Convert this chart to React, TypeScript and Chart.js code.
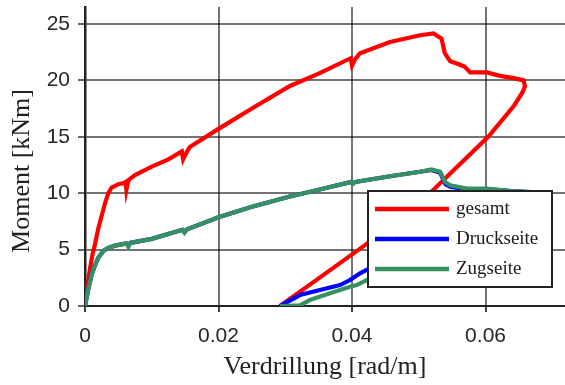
import React, { useEffect, useRef } from "react";
import { Chart, registerables } from "chart.js";

Chart.register(...registerables);

// ---- data ----
const gesamtX = [
  0, 0.0004, 0.00075, 0.0011, 0.0015, 0.002, 0.0025, 0.003, 0.0035, 0.004, 0.005, 0.0058, 0.0061, 0.0062,
  0.0064, 0.0066, 0.0075, 0.01, 0.0125, 0.0145, 0.0147, 0.0152, 0.0157, 0.02, 0.025, 0.0307, 0.035, 0.0398,
  0.04, 0.0405, 0.0412, 0.0457, 0.0472, 0.0502, 0.0522, 0.0534, 0.0539, 0.0547, 0.0559, 0.0569, 0.0577,
  0.0602, 0.0622, 0.0642, 0.0657, 0.0659, 0.0655, 0.0642, 0.0604, 0.0522, 0.0422, 0.035, 0.0292,
];
const gesamtY = [
  0, 2.0, 3.3, 4.5, 5.5, 6.9, 8.0, 9.1, 10.0, 10.5, 10.8, 10.9, 11.0, 10.3,
  10.9, 11.2, 11.6, 12.35, 13.0, 13.7, 13.0, 13.6, 14.1, 15.7, 17.5, 19.5, 20.6, 21.96,
  21.3, 21.9, 22.4, 23.4, 23.6, 24.0, 24.15, 23.7, 22.4, 21.7, 21.45, 21.2, 20.7,
  20.7, 20.4, 20.2, 20.0, 19.45, 18.9, 17.7, 15.0, 10.3, 5.5, 2.45, 0,
];

const druckX = [
  0, 0.0005, 0.001, 0.0015, 0.002, 0.0028, 0.0035, 0.0045, 0.0062, 0.0065, 0.0068, 0.01, 0.0146, 0.0149,
  0.0153, 0.02, 0.025, 0.0307, 0.035, 0.0399, 0.0401, 0.0405, 0.0457, 0.0502, 0.0519, 0.0532, 0.054,
  0.0548, 0.0572, 0.0602, 0.0635, 0.0665, 0.0422, 0.0412, 0.0397, 0.0382, 0.0352, 0.0322, 0.0292,
];
const druckY = [
  0, 1.5, 2.8, 3.6, 4.3, 4.9, 5.15, 5.35, 5.55, 5.45, 5.6, 5.95, 6.75, 6.6,
  6.8, 7.86, 8.8, 9.7, 10.3, 11.0, 10.85, 11.0, 11.5, 11.9, 12.05, 11.8, 10.8,
  10.55, 10.35, 10.35, 10.2, 10.1, 3.2, 2.9, 2.3, 1.86, 1.42, 0.97, 0,
];

const zugX = [
  0, 0.0005, 0.001, 0.0015, 0.002, 0.0028, 0.0035, 0.0045, 0.0062, 0.0065, 0.0068, 0.01, 0.0146, 0.0149,
  0.0153, 0.02, 0.025, 0.0307, 0.035, 0.0399, 0.0401, 0.0405, 0.0457, 0.0502, 0.0519, 0.0532, 0.0539,
  0.0547, 0.0572, 0.0602, 0.0635, 0.0665, 0.0422, 0.0407, 0.0397, 0.0367, 0.0337, 0.0322, 0.0292,
];
const zugY = [
  0, 1.5, 2.8, 3.6, 4.3, 4.9, 5.15, 5.35, 5.55, 5.25, 5.6, 5.95, 6.75, 6.5,
  6.8, 7.86, 8.8, 9.7, 10.3, 11.0, 10.8, 11.0, 11.5, 11.9, 12.1, 11.9, 11.0,
  10.7, 10.4, 10.4, 10.2, 10.1, 2.3, 1.86, 1.7, 1.12, 0.53, 0.05, 0,
];

const seriesNames = ["gesamt", "Druckseite", "Zugseite"];
const seriesColors = ["#ff0000", "#0000ff", "#35915f"];
const xTicks = [0, 0.02, 0.04, 0.06];
const yTicks = [0, 5, 10, 15, 20, 25];
const xTitle = "Verdrillung [rad/m]";
const yTitle = "Moment [kNm]";

const toPoints = (xs: number[], ys: number[]) => xs.map((x, i) => ({ x, y: ys[i] }));

const overlayPlugin = {
  id: "overlay",
  afterDraw(chart: any) {
    const ctx = chart.ctx as CanvasRenderingContext2D;
    // y-axis title
    ctx.save();
    ctx.translate(22, 171);
    ctx.rotate(-Math.PI / 2);
    ctx.font = '26px "Liberation Serif"';
    ctx.fillStyle = "#222";
    ctx.textAlign = "center";
    ctx.textBaseline = "middle";
    ctx.fillText(yTitle, 0, 0);
    ctx.restore();

    // legend box inside the plot
    const bx = 368, by = 191, bw = 184, bh = 96;
    ctx.save();
    ctx.fillStyle = "#ffffff";
    ctx.fillRect(bx, by, bw, bh);
    ctx.strokeStyle = "#222";
    ctx.lineWidth = 2;
    ctx.strokeRect(bx, by, bw, bh);
    ctx.font = '19px "Liberation Serif"';
    ctx.textAlign = "left";
    ctx.textBaseline = "alphabetic";
    chart.data.datasets.forEach((ds: any, i: number) => {
      const ly = by + 18 + i * 30;
      ctx.strokeStyle = ds.borderColor;
      ctx.lineWidth = 4.5;
      ctx.beginPath();
      ctx.moveTo(bx + 7, ly);
      ctx.lineTo(bx + 81, ly);
      ctx.stroke();
      ctx.fillStyle = "#1a1a1a";
      ctx.fillText(ds.label, bx + 88, ly + 5);
    });
    ctx.restore();
  },
};

export default function App() {
  const ref = useRef<HTMLCanvasElement | null>(null);

  useEffect(() => {
    if (!ref.current) return;
    const series = [
      toPoints(gesamtX, gesamtY),
      toPoints(druckX, druckY),
      toPoints(zugX, zugY),
    ];
    const chart = new Chart(ref.current, {
      type: "scatter",
      data: {
        datasets: series.map((pts, i) => ({
          label: seriesNames[i],
          data: pts,
          showLine: true,
          borderColor: seriesColors[i],
          backgroundColor: seriesColors[i],
          borderWidth: 4.2,
          pointRadius: 0,
          tension: 0,
          order: 3 - i,
        })),
      },
      options: {
        animation: false,
        responsive: false,
        devicePixelRatio: 1,
        layout: { autoPadding: false, padding: { top: 7, right: 0, left: 0, bottom: 0 } },
        plugins: {
          legend: { display: false },
          tooltip: { enabled: false },
        },
        scales: {
          x: {
            type: "linear",
            min: 0,
            max: 0.0719,
            afterBuildTicks: (s: any) => {
              s.ticks = xTicks.map((v) => ({ value: v }));
            },
            afterFit: (s: any) => {
              s.height = 79;
              s.paddingLeft = 0;
              s.paddingRight = 0;
              s.paddingTop = 0;
              s.paddingBottom = 0;
            },
            ticks: {
              font: { family: '"Liberation Sans"', size: 21 },
              color: "#262626",
              padding: 12,
              callback: (v: any) => (v === 0 ? "0" : Number(v).toFixed(2)),
            },
            grid: {
              color: "rgba(0,0,0,0.55)",
              lineWidth: 2,
              tickLength: 6,
              tickColor: "rgba(0,0,0,0.75)",
            },
            border: { color: "#222", width: 2 },
            title: {
              display: true,
              text: xTitle,
              font: { family: '"Liberation Serif"', size: 26 },
              color: "#222",
              padding: { top: 0, bottom: 2 },
            },
          },
          y: {
            type: "linear",
            min: 0,
            max: 26.5,
            afterBuildTicks: (s: any) => {
              s.ticks = yTicks.map((v) => ({ value: v }));
            },
            afterFit: (s: any) => {
              s.width = 85;
              s.paddingTop = 0;
              s.paddingBottom = 0;
              s.paddingLeft = 0;
              s.paddingRight = 0;
            },
            ticks: {
              font: { family: '"Liberation Sans"', size: 21 },
              color: "#262626",
              padding: 8,
            },
            grid: {
              color: "rgba(0,0,0,0.55)",
              lineWidth: 2,
              tickLength: 7,
              tickColor: "rgba(0,0,0,0.6)",
            },
            border: { color: "#222", width: 2.5 },
          },
        },
      },
      plugins: [overlayPlugin],
    });
    return () => chart.destroy();
  }, []);

  return (
    <div style={{ position: "fixed", left: 0, top: 0, width: 565, height: 385, background: "#fff" }}>
      <canvas ref={ref} width={565} height={385} />
    </div>
  );
}
